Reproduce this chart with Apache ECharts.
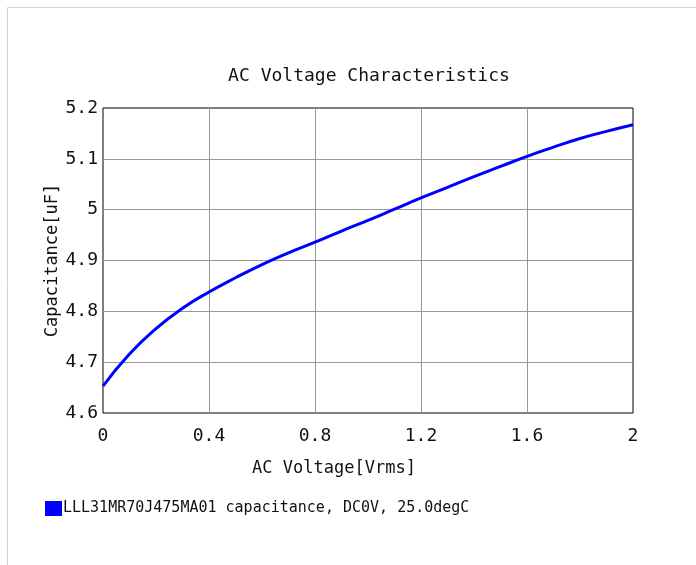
<!DOCTYPE html>
<html>
<head>
<meta charset="utf-8">
<script src="https://cdn.jsdelivr.net/npm/echarts@6/dist/echarts.min.js"></script>
<style>
html,body{margin:0;padding:0;background:#fff;}
#c{width:696px;height:565px;}
</style>
</head>
<body>
<div id="c"></div>
<script>
const titleText = 'AC Voltage Characteristics';
const xName = 'AC Voltage[Vrms]';
const yName = 'Capacitance[uF]';
const seriesName = 'LLL31MR70J475MA01 capacitance, DC0V, 25.0degC';
const voltage = [0, 0.1, 0.2, 0.3, 0.4, 0.5, 0.6, 0.7, 0.8, 0.9, 1.0, 1.1, 1.2, 1.3, 1.4, 1.5, 1.6, 1.7, 1.8, 1.9, 2.0];
const capacitance = [4.653, 4.716, 4.766, 4.806, 4.838, 4.866, 4.892, 4.915, 4.936, 4.958, 4.979, 5.001, 5.023, 5.044, 5.065, 5.085, 5.105, 5.123, 5.140, 5.154, 5.167];

const FONT = 'DejaVu Sans Mono';
const fmt = v => String(parseFloat(v.toFixed(1)));

const chart = echarts.init(document.getElementById('c'));
chart.setOption({
  animation: false,
  backgroundColor: '#fff',
  textStyle: { fontFamily: FONT, color: '#111' },
  graphic: [{
    type: 'rect', shape: { x: 7.5, y: 7.5, width: 720, height: 600 },
    style: { fill: 'none', stroke: '#d4d4d4', lineWidth: 1 }, silent: true
  }],
  title: {
    text: titleText, left: 364, top: 62, textAlign: 'center',
    textStyle: { fontFamily: FONT, fontWeight: 'normal', fontSize: 18, color: '#111' }
  },
  legend: {
    left: 40, top: 496, icon: 'rect', itemWidth: 17, itemHeight: 15, itemGap: 4,
    textStyle: { fontFamily: FONT, fontSize: 15, color: '#111', padding: [0, 0, 0, -4] },
    data: [seriesName]
  },
  grid: {
    left: 103, right: 63, top: 108, bottom: 152, show: true,
    borderColor: '#000', borderWidth: 1, containLabel: false
  },
  xAxis: {
    type: 'value', min: 0, max: 2, interval: 0.4,
    name: xName, nameLocation: 'middle', nameGap: 47, nameMoveOverlap: false,
    nameTextStyle: { fontFamily: FONT, fontSize: 17, color: '#111', padding: [0, 68, 0, 0] },
    axisLine: { show: false }, axisTick: { show: false },
    axisLabel: { fontFamily: FONT, fontSize: 18, color: '#111', margin: 14, formatter: fmt },
    splitLine: { show: true, showMinLine: false, showMaxLine: false, lineStyle: { color: '#999', width: 1 } }
  },
  yAxis: {
    type: 'value', min: 4.6, max: 5.2, interval: 0.1,
    name: yName, nameLocation: 'middle', nameGap: 42, nameRotate: 90, nameMoveOverlap: false,
    nameTextStyle: { fontFamily: FONT, fontSize: 17, color: '#111' },
    axisLine: { show: false }, axisTick: { show: false },
    axisLabel: { fontFamily: FONT, fontSize: 18, color: '#111', margin: 5, formatter: fmt },
    splitLine: { show: true, showMinLine: false, showMaxLine: false, lineStyle: { color: '#999', width: 1 } }
  },
  series: [{
    name: seriesName, type: 'line', smooth: true, showSymbol: false,
    data: voltage.map((v, i) => [v, capacitance[i]]),
    lineStyle: { color: '#0000ff', width: 3 }, itemStyle: { color: '#0000ff' }
  }]
});
</script>
</body>
</html>
